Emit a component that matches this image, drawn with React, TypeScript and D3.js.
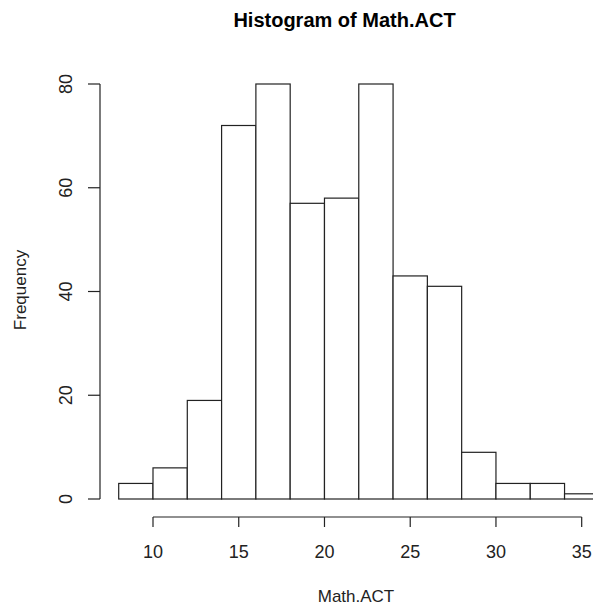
import React from "react";
import * as d3 from "d3";

const binStarts = [8, 10, 12, 14, 16, 18, 20, 22, 24, 26, 28, 30, 32, 34];
const binWidth = 2;
const counts = [3, 6, 19, 72, 80, 57, 58, 80, 43, 41, 9, 3, 3, 1];
const xTicks = [10, 15, 20, 25, 30, 35];
const yTicks = [0, 20, 40, 60, 80];
const title = "Histogram of Math.ACT";
const xLabel = "Math.ACT";
const yLabel = "Frequency";

const W = 593;
const H = 607;
const font = "'Liberation Sans', Arial, sans-serif";

export default function App() {
  const x = d3.scaleLinear().domain([10, 35]).range([153, 581.7]);
  const y = d3.scaleLinear().domain([0, 80]).range([499, 84]);
  const axisY = 517;
  const axisX = 100;
  return (
    <svg
      width={W}
      height={H}
      style={{ position: "absolute", left: 0, top: 0, background: "#fff" }}
      fontFamily={font}
    >
      <rect x={0} y={0} width={W} height={H} fill="#fff" />
      <text x={344.5} y={27} textAnchor="middle" fontSize={20} fontWeight="bold" fill="#000">
        {title}
      </text>
      <g>
        {binStarts.map((s, i) => (
          <rect
            key={i}
            x={x(s)}
            y={y(counts[i])}
            width={x(s + binWidth) - x(s)}
            height={y(0) - y(counts[i])}
            fill="#fff"
            stroke="#222"
            strokeWidth={1.2}
          />
        ))}
      </g>
      {/* x axis */}
      <g stroke="#222" strokeWidth={1.2}>
        <line x1={x(xTicks[0])} x2={x(xTicks[xTicks.length - 1])} y1={axisY} y2={axisY} />
        {xTicks.map((t) => (
          <line key={t} x1={x(t)} x2={x(t)} y1={axisY} y2={axisY + 10} />
        ))}
      </g>
      {xTicks.map((t) => (
        <text key={t} x={x(t)} y={558} textAnchor="middle" fontSize={18} fill="#222">
          {t}
        </text>
      ))}
      {/* y axis */}
      <g stroke="#222" strokeWidth={1.2}>
        <line x1={axisX} x2={axisX} y1={y(yTicks[0])} y2={y(yTicks[yTicks.length - 1])} />
        {yTicks.map((t) => (
          <line key={t} x1={axisX - 12} x2={axisX} y1={y(t)} y2={y(t)} />
        ))}
      </g>
      {yTicks.map((t) => (
        <text
          key={t}
          transform={`translate(72, ${y(t)}) rotate(-90)`}
          textAnchor="middle"
          fontSize={18}
          fill="#222"
        >
          {t}
        </text>
      ))}
      <text
        transform={`translate(26, 290) rotate(-90)`}
        textAnchor="middle"
        fontSize={17}
        fill="#222"
      >
        {yLabel}
      </text>
      <text x={356} y={602} textAnchor="middle" fontSize={17} fill="#222">
        {xLabel}
      </text>
    </svg>
  );
}
